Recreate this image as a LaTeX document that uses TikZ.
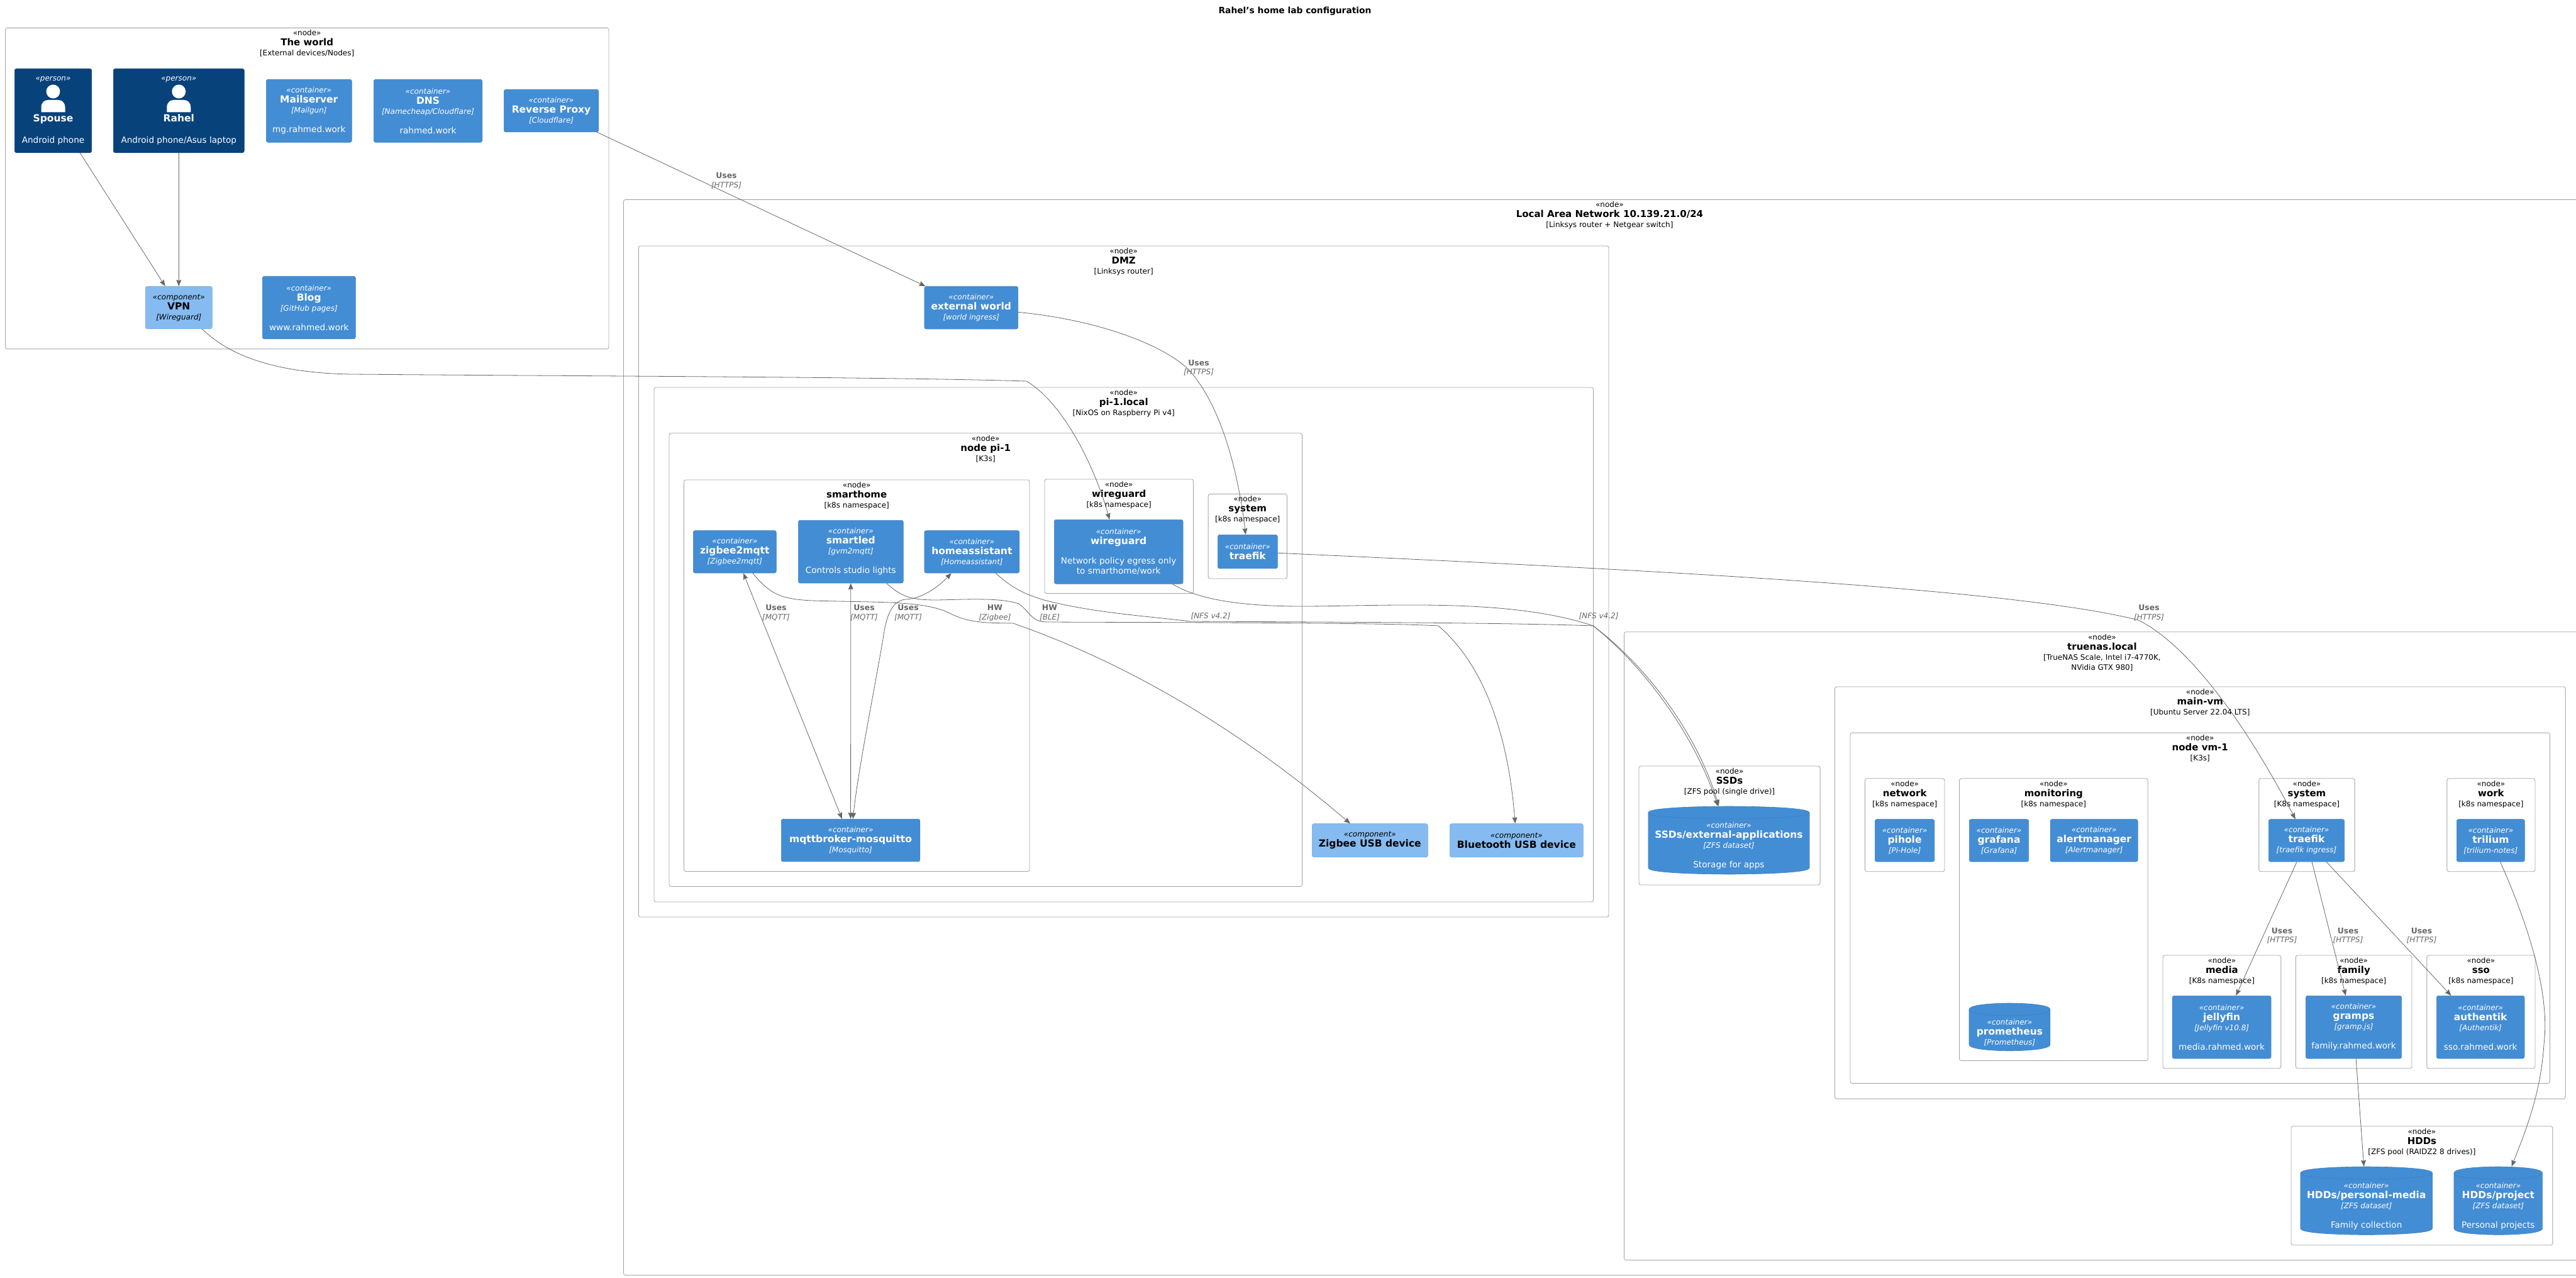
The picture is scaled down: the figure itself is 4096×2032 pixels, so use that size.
\documentclass[tikz,border=0pt]{standalone}
\usepackage{fontspec}
\setmainfont{DejaVu Sans}
\usepackage{xcolor}
\usetikzlibrary{arrows.meta, positioning, calc}
\definecolor{containerblue}{HTML}{438DD5}
\definecolor{containeredge}{HTML}{3C7FC0}
\definecolor{personblue}{HTML}{08427B}
\definecolor{personedge}{HTML}{073B6F}
\definecolor{compblue}{HTML}{85BBF0}
\definecolor{compedge}{HTML}{78A8D8}
\definecolor{reldark}{HTML}{666666}
\newcommand{\smallfont}{\fontsize{6}{8}\selectfont}
\newcommand{\namefont}{\fontsize{7.75}{8}\bfseries\selectfont}
\newcommand{\boundfont}{\fontsize{7.5}{8}\bfseries\selectfont}
\newcommand{\descfont}{\fontsize{6.8}{8}\selectfont}
\newcommand{\ctext}[4][container]{{\smallfont\itshape «#1»}\\{\namefont #2}\\{\smallfont\itshape [#3]}#4}
\newcommand{\cdesc}[1]{\\[7.5pt]{\descfont #1}}
\tikzset{
  x=0.5pt, y=-0.5pt,
  boxbase/.style={rectangle, rounded corners=1.5pt, inner sep=0pt, line width=0.3pt,
                  align=center, anchor=north west, font=\smallfont},
  containerbox/.style={boxbase, fill=containerblue, draw=containeredge, text=white},
  personbox/.style={boxbase, fill=personblue, draw=personedge, text=white},
  compbox/.style={boxbase, fill=compblue, draw=compedge, text=black},
  dbshape/.style={fill=containerblue, draw=containeredge, line width=0.3pt},
  dbtext/.style={rectangle, inner sep=0pt, align=center, text=white, font=\smallfont},
  boundary/.style={boxbase, line width=0.42pt, draw=black!36, fill=none, text=black},
  boundarylabel/.style={align=center, anchor=north, inner sep=0pt, font=\smallfont, text=black},
  rel/.style={-{Stealth[length=5pt, width=4pt, inset=0.6pt]}, line width=0.4pt, draw=reldark},
  relboth/.style={{Stealth[length=5pt, width=4pt, inset=0.6pt]}-{Stealth[length=5pt, width=4pt, inset=0.6pt]},
                  line width=0.4pt, draw=reldark},
  rellabel/.style={align=center, inner sep=0pt, text=reldark, font=\fontsize{6}{7.25}\selectfont},
}
\newcommand{\boundbox}[7]{%
  \node[boundary, minimum width={(#4-#2)*0.5pt}, minimum height={(#5-#3)*0.5pt}] (#1) at (#2,#3) {};
  \node[boundarylabel] (#1label) at ([yshift=-1.6pt]#1.north) {«node»\\{\boundfont #6}\\{}#7};
}
\newcommand{\drawbox}[7]{%
  \node[#1, minimum width={(#5-#3)*0.5pt}, minimum height={(#6-#4)*0.5pt}] (#2) at (#3,#4) {#7};
}
\newcommand{\drawdb}[6]{%
  \def\mx{{(#2+#4)/2}}
  \filldraw[dbshape] (#2,{#3+10}) .. controls (#2,#3) and (\mx,#3) .. (\mx,#3)
    .. controls (\mx,#3) and (#4,#3) .. (#4,{#3+10}) -- (#4,{#5-10})
    .. controls (#4,#5) and (\mx,#5) .. (\mx,#5)
    .. controls (\mx,#5) and (#2,#5) .. (#2,{#5-10}) -- cycle;
  \draw[dbshape, fill=none] (#2,{#3+10}) .. controls (#2,{#3+20}) and (\mx,{#3+20}) .. (\mx,{#3+20})
    .. controls (\mx,{#3+20}) and (#4,{#3+20}) .. (#4,{#3+10});
  \node[dbtext, minimum width={(#4-#2)*0.5pt}, minimum height={(#5-#3)*0.5pt}] (#1) at (\mx,{(#3+#5)/2}) {};
  \node[dbtext] (#1label) at ([yshift=-4.5pt]#1.center) {#6};
}
\newcommand{\usesl}[5]{%
  \node[rellabel] (#1) at (#2,#3) {{\fontsize{6.2}{7.25}\bfseries\selectfont #4}\\{\itshape #5}};
}
\newcommand{\personicon}[1]{%
  \begin{scope}[shift={(#1.north)}]
    \fill[white] (0,36.5) circle [radius=5.5pt];
    \fill[white] (-19,69.5) -- (-19,62) .. controls (-19,54) and (-14,50) .. (-8,50)
      -- (8,50) .. controls (14,50) and (19,54) .. (19,62) -- (19,69.5) -- cycle;
  \end{scope}
}
\begin{document}
\begin{tikzpicture}
  \useasboundingbox (0,0) rectangle (4096,2032);
  \node[font=\fontsize{6.9}{8}\bfseries\selectfont] (title) at (2059,18) {Rahel's home lab configuration};

  \boundbox{world}{8}{44}{967.5}{554.5}{The world}{[External devices/Nodes]}
  \drawbox{personbox}{spouse}{23}{109}{145.4}{242.5}{{\smallfont\itshape «person»}\\[24.3pt]{\namefont Spouse}\\[8.8pt]{\descfont Android phone}}
  \drawbox{personbox}{rahel}{180}{109}{388}{242.5}{{\smallfont\itshape «person»}\\[24.3pt]{\namefont Rahel}\\[8.8pt]{\descfont Android phone/Asus laptop}}
  \personicon{spouse}
  \personicon{rahel}
  \drawbox{containerbox}{mailserver}{423}{126}{559}{226}{\ctext{Mailserver}{Mailgun}{\cdesc{mg.rahmed.work}}}
  \drawbox{containerbox}{dns}{594}{126}{766.5}{226}{\ctext{DNS}{Namecheap/Cloudflare}{\cdesc{rahmed.work}}}
  \drawbox{containerbox}{proxy}{801}{142}{951.5}{209.5}{\ctext{Reverse Proxy}{Cloudflare}{}}
  \drawbox{compbox}{vpn}{231}{455}{337}{522.5}{\ctext[component]{VPN}{Wireguard}{}}
  \drawbox{containerbox}{blog}{417}{439}{565}{538.5}{\ctext{Blog}{GitHub pages}{\cdesc{www.rahmed.work}}}

  \boundbox{lan}{991}{317}{4127}{2027}{Local Area Network 10.139.21.0/24}{[Linksys router + Netgear switch]}
  \boundbox{dmz}{1015}{390.6}{2557.6}{1457.6}{DMZ}{[Linksys router]}
  \drawbox{containerbox}{extworld}{1469.6}{455}{1618.4}{522.8}{\ctext{external world}{world ingress}{}}
  \boundbox{pilocal}{1039.6}{615.6}{2533}{1433.5}{pi-1.local}{[NixOS on Raspberry Pi v4]}
  \boundbox{nodepi}{1063.5}{688.4}{2070}{1409}{node pi-1}{[K3s]}
  \boundbox{smarthome}{1087}{762.5}{1636.6}{1385}{smarthome}{[k8s namespace]}
  \boundbox{wgns}{1660.5}{761.6}{1897}{943}{wireguard}{[k8s namespace]}
  \boundbox{sysns}{1920.7}{785}{2046}{919.6}{system}{[k8s namespace]}
  \drawbox{containerbox}{zigbeemqtt}{1102}{843.3}{1234}{910.7}{\ctext{zigbee2mqtt}{Zigbee2mqtt}{}}
  \drawbox{containerbox}{smartled}{1269}{827}{1436}{926.8}{\ctext{smartled}{gvm2mqtt}{\cdesc{Controls studio lights}}}
  \drawbox{containerbox}{homeassist}{1469.6}{843.3}{1620.5}{910.7}{\ctext{homeassistant}{Homeassistant}{}}
  \drawbox{containerbox}{wireguard}{1676}{826}{1880.7}{928}{{\smallfont\itshape «container»}\\{\namefont wireguard}\\[7.5pt]{\descfont Network policy egress only}\\{\descfont to smarthome/work}}
  \drawbox{containerbox}{traefikpi}{1936}{850}{2031}{903.6}{{\smallfont\itshape «container»}\\{\namefont traefik}}
  \drawbox{containerbox}{mosquitto}{1242}{1302}{1462.5}{1369.6}{\ctext{mqttbroker-mosquitto}{Mosquitto}{}}
  \drawbox{compbox}{zigbeeusb}{2086}{1309.4}{2270}{1362.5}{{\smallfont\itshape «component»}\\{\namefont Zigbee USB device}}
  \drawbox{compbox}{bleusb}{2305}{1309.4}{2517}{1362.5}{{\smallfont\itshape «component»}\\{\namefont Bluetooth USB device}}

  \boundbox{truenas}{2582}{1004.3}{4102}{2003}{truenas.local}{[TrueNAS Scale, Intel i7-4770K,\\NVidia GTX 980]}
  \boundbox{ssdpool}{2605.5}{1217.6}{2893.7}{1406.6}{SSDs}{[ZFS pool (single drive)]}
  \drawdb{ssdapps}{2620.8}{1282}{2877}{1390}{\ctext{SSDs/external-applications}{ZFS dataset}{\cdesc{Storage for apps}}}
  \boundbox{mainvm}{2917}{1091.5}{4078.7}{1746.7}{main-vm}{[Ubuntu Server 22.04 LTS]}
  \boundbox{nodevm}{2941.6}{1164.7}{4054}{1722}{node vm-1}{[K3s]}
  \boundbox{networkns}{2965}{1237.4}{3091.5}{1385.3}{network}{[k8s namespace]}
  \drawbox{containerbox}{pihole}{2981}{1302.4}{3075.5}{1369.8}{\ctext{pihole}{Pi-Hole}{}}
  \boundbox{monitorns}{3115}{1237.4}{3414.8}{1686}{monitoring}{[k8s namespace]}
  \drawbox{containerbox}{grafana}{3131}{1302.4}{3225.4}{1369.8}{\ctext{grafana}{Grafana}{}}
  \drawbox{containerbox}{alertmgr}{3259.8}{1302.4}{3398.9}{1369.8}{\ctext{alertmanager}{Alertmanager}{}}
  \drawdb{prometheus}{3131}{1595}{3259.8}{1670.8}{\ctext{prometheus}{Prometheus}{}}
  \boundbox{systemns}{3591.4}{1237.4}{3743.7}{1385.3}{system}{[K8s namespace]}
  \drawbox{containerbox}{traefikvm}{3607}{1302.4}{3727.4}{1369.8}{\ctext{traefik}{traefik ingress}{}}
  \boundbox{workns}{3890.4}{1237.4}{4030.5}{1385.3}{work}{[k8s namespace]}
  \drawbox{containerbox}{trilium}{3906}{1302.4}{4014}{1369.8}{\ctext{trilium}{trilium-notes}{}}
  \boundbox{mediens}{3438.6}{1518.6}{3626.4}{1698.3}{media}{[K8s namespace]}
  \drawbox{containerbox}{jellyfin}{3453.8}{1583}{3610.7}{1682.7}{\ctext{jellyfin}{Jellyfin v10.8}{\cdesc{media.rahmed.work}}}
  \boundbox{familyns}{3650}{1518.6}{3834.5}{1698.3}{family}{[k8s namespace]}
  \drawbox{containerbox}{gramps}{3666}{1583}{3818.3}{1682.7}{\ctext{gramps}{gramp.js}{\cdesc{family.rahmed.work}}}
  \boundbox{ssons}{3858.4}{1518.6}{4030.5}{1698.3}{sso}{[k8s namespace]}
  \drawbox{containerbox}{authentik}{3874}{1583}{4013.7}{1682.7}{\ctext{authentik}{Authentik}{\cdesc{sso.rahmed.work}}}
  \boundbox{hddpool}{3642.6}{1790.3}{4058.4}{1979.3}{HDDs}{[ZFS pool (RAIDZ2 8 drives)]}
  \drawdb{hddmedia}{3657.9}{1855}{3867.5}{1963.3}{\ctext{HDDs/personal-media}{ZFS dataset}{\cdesc{Family collection}}}
  \drawdb{hddproject}{3902}{1855}{4042.6}{1963.3}{\ctext{HDDs/project}{ZFS dataset}{\cdesc{Personal projects}}}

  \draw[rel] (spouse) -- (vpn);
  \draw[rel] (rahel) -- (vpn);
  \draw[rel] (proxy) -- (extworld);
  \draw[rel] (vpn) .. controls (345,545) and (400,593) .. (560,595)
    .. controls (900,598) and (1400,599) .. (1632,606)
    .. controls (1690,640) and (1740,740) .. (wireguard);
  \draw[rel] (extworld) .. controls (1760,510) and (1860,555) .. (1892,590)
    .. controls (1945,650) and (1970,760) .. (traefikpi);
  \draw[rel] (traefikpi) .. controls (2600,905) and (3200,935) .. (3400,986)
    .. controls (3470,1020) and (3560,1130) .. (traefikvm);
  \draw[relboth] (zigbeemqtt) -- (mosquitto);
  \draw[relboth] (smartled) -- (mosquitto);
  \draw[relboth] (homeassist) .. controls (1490,935) and (1465,952) .. (1440,953)
    .. controls (1420,955) and (1410,975) .. (1405,1010)
    .. controls (1390,1100) and (1365,1220) .. (mosquitto);
  \draw[rel] (zigbeemqtt) .. controls (1225,945) and (1240,952) .. (1290,955)
    .. controls (1400,958) and (1470,955) .. (1510,975)
    .. controls (1545,993) and (1580,990) .. (1611,991)
    .. controls (1780,1050) and (1960,1150) .. (zigbeeusb);
  \draw[rel] (smartled) .. controls (1435,950) and (1450,954) .. (1490,954)
    .. controls (1540,953) and (1590,950) .. (1620,960)
    .. controls (1640,975) and (1640,989) .. (1665,989)
    .. controls (1900,990) and (2200,990) .. (2287,995)
    .. controls (2340,1040) and (2395,1130) .. (bleusb);
  \draw[rel] (homeassist) .. controls (1615,940) and (1635,946) .. (1660,954)
    .. controls (1740,975) and (1830,980) .. (1892,988)
    .. controls (2100,989) and (2400,990) .. (2533,995)
    .. controls (2620,1060) and (2700,1170) .. (ssdapps);
  \draw[rel] (wireguard) .. controls (1900,950) and (1960,964) .. (2070,964)
    .. controls (2200,964) and (2400,950) .. (2533,995)
    .. controls (2615,1060) and (2695,1170) .. (ssdapps);
  \draw[rel] (traefikvm) -- (jellyfin);
  \draw[rel] (traefikvm) -- (gramps);
  \draw[rel] (traefikvm) -- (authentik);
  \draw[rel] (gramps) -- (hddmedia);
  \draw[rel] (trilium) .. controls (4020,1470) and (4055,1580) .. (4045,1660)
    .. controls (4040,1740) and (4015,1800) .. (hddproject);

  \usesl{lproxy}{1155}{287.5}{Uses}{[HTTPS]}
  \usesl{lextworld}{1906}{585}{Uses}{[HTTPS]}
  \usesl{ltraefik}{3417}{974.5}{Uses}{[HTTPS]}
  \usesl{lzigbeemq}{1234}{974.5}{Uses}{[MQTT]}
  \usesl{lsmartled}{1374}{974.5}{Uses}{[MQTT]}
  \usesl{lhomemq}{1444}{974.5}{Uses}{[MQTT]}
  \usesl{lhwzigbee}{1582}{974.5}{HW}{[Zigbee]}
  \usesl{lhwble}{1669}{974.5}{HW}{[BLE]}
  \node[rellabel] (lnfshome) at (1925,979.5) {\itshape [NFS v4.2]};
  \node[rellabel] (lnfswg) at (2542,979.5) {\itshape [NFS v4.2]};
  \usesl{ljellyfin}{3628.5}{1488}{Uses}{[HTTPS]}
  \usesl{lgramps}{3733.5}{1488}{Uses}{[HTTPS]}
  \usesl{lauthentik}{3850.5}{1488}{Uses}{[HTTPS]}
\end{tikzpicture}
\end{document}
